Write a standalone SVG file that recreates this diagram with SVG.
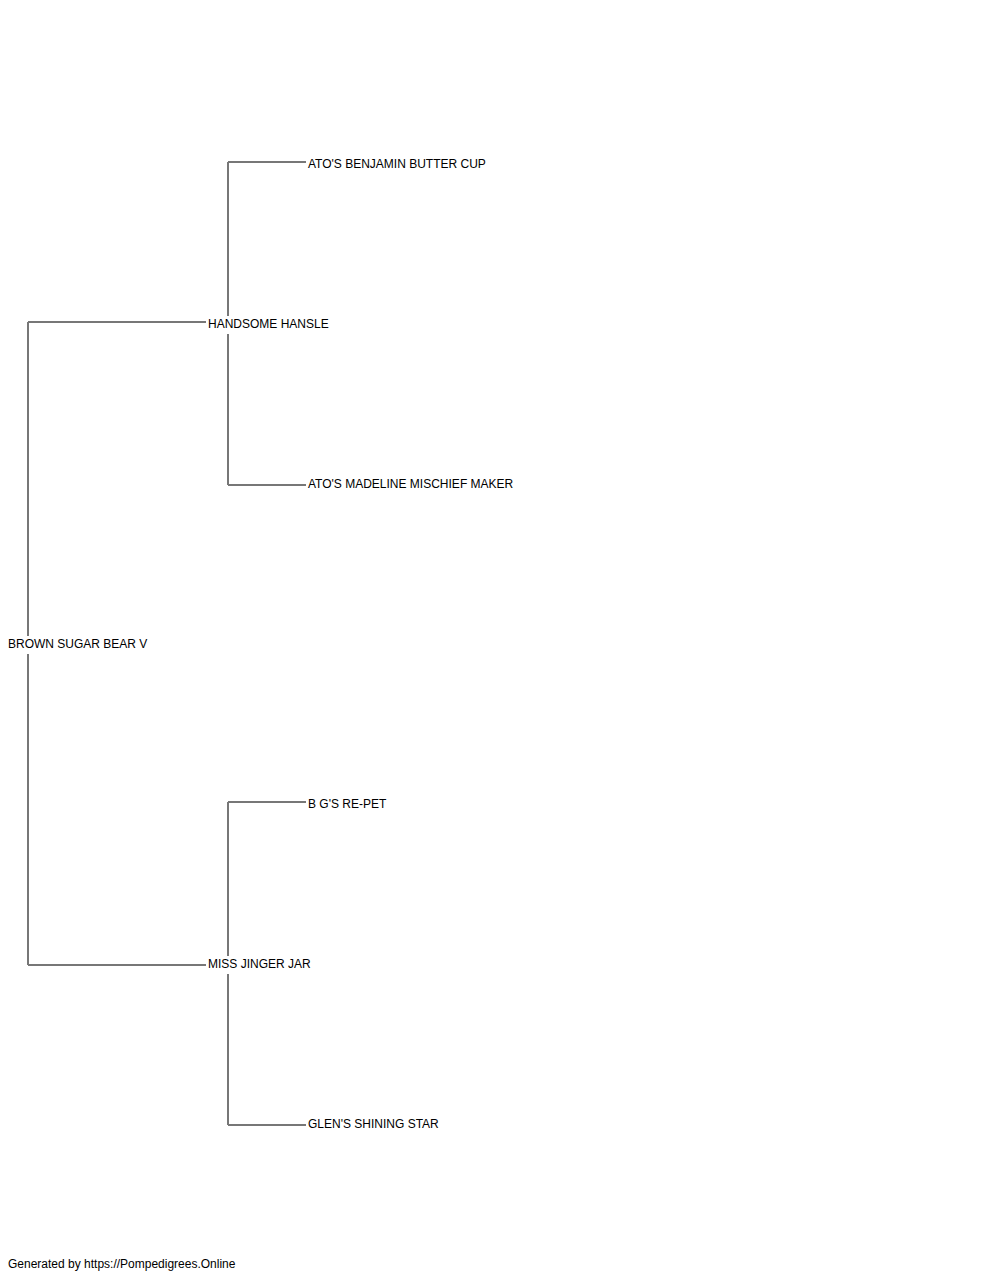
<svg xmlns="http://www.w3.org/2000/svg" width="1000" height="1280" viewBox="0 0 1000 1280">
<style>
text{font-family:"Liberation Sans",Arial,sans-serif;font-size:12px;fill:#000}
.c line{stroke:#777;stroke-width:2;fill:none}
</style>
<rect width="1000" height="1280" fill="#fff"/>
<g class="c" id="connectors">
<line x1="28" y1="322" x2="206" y2="322"/>
<line x1="28" y1="322" x2="28" y2="636"/>
<line x1="28" y1="654" x2="28" y2="965"/>
<line x1="28" y1="965" x2="206" y2="965"/>
<line x1="228" y1="162" x2="306" y2="162"/>
<line x1="228" y1="162" x2="228" y2="316"/>
<line x1="228" y1="334" x2="228" y2="485"/>
<line x1="228" y1="485" x2="306" y2="485"/>
<line x1="228" y1="802" x2="306" y2="802"/>
<line x1="228" y1="802" x2="228" y2="956"/>
<line x1="228" y1="974" x2="228" y2="1125"/>
<line x1="228" y1="1125" x2="306" y2="1125"/>
</g>
<g id="n-root"><text x="8" y="648">BROWN SUGAR BEAR V</text></g>
<g id="n-sire"><text x="208" y="328">HANDSOME HANSLE</text></g>
<g id="n-dam"><text x="208" y="968">MISS JINGER JAR</text></g>
<g id="n-ss"><text x="308" y="168">ATO'S BENJAMIN BUTTER CUP</text></g>
<g id="n-sd"><text x="308" y="488">ATO'S MADELINE MISCHIEF MAKER</text></g>
<g id="n-ds"><text x="308" y="808">B G'S RE-PET</text></g>
<g id="n-dd"><text x="308" y="1128">GLEN'S SHINING STAR</text></g>
<text x="8" y="1268">Generated by https://Pompedigrees.Online</text>
</svg>
